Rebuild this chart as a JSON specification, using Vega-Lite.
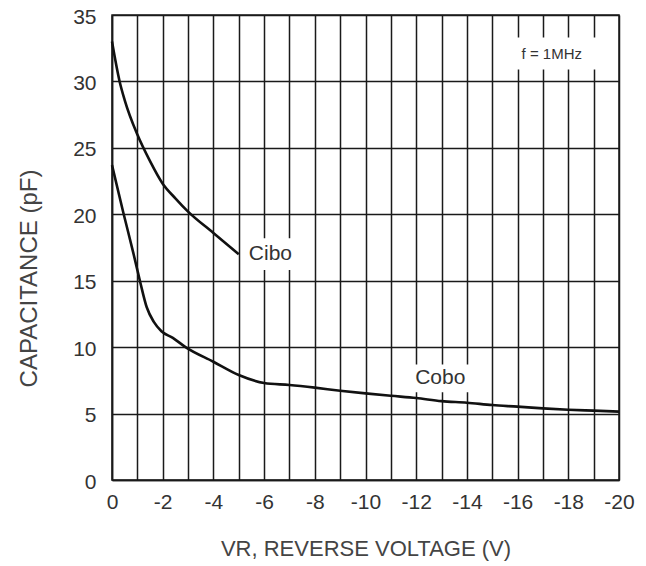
{
  "$schema": "https://vega.github.io/schema/vega-lite/v6.json",
  "width": 507,
  "height": 465,
  "autosize": "none",
  "padding": {"left": 112, "top": 15, "right": 27, "bottom": 86},
  "background": "white",
  "config": {
    "font": "Liberation Sans",
    "view": {"stroke": "#1a1a1a", "strokeWidth": 1.5},
    "axis": {
      "ticks": false,
      "gridColor": "#1a1a1a",
      "gridWidth": 1.5,
      "gridOpacity": 1,
      "domainColor": "#1a1a1a",
      "domainWidth": 1.5,
      "labelFont": "Liberation Sans",
      "labelFontSize": 21,
      "labelColor": "#333333",
      "titleFont": "Liberation Sans",
      "titleFontWeight": "normal",
      "titleColor": "#444444"
    }
  },
  "datasets": {
    "curves": [
      {"series": "Cibo", "v": 0, "c": 33.0},
      {"series": "Cibo", "v": -0.3, "c": 30.0},
      {"series": "Cibo", "v": -0.5, "c": 28.6},
      {"series": "Cibo", "v": -1, "c": 26.0},
      {"series": "Cibo", "v": -1.5, "c": 24.0},
      {"series": "Cibo", "v": -2, "c": 22.3},
      {"series": "Cibo", "v": -2.5, "c": 21.2},
      {"series": "Cibo", "v": -3, "c": 20.2},
      {"series": "Cibo", "v": -4, "c": 18.6},
      {"series": "Cibo", "v": -5, "c": 17.0},
      {"series": "Cobo", "v": 0, "c": 23.7},
      {"series": "Cobo", "v": -0.45, "c": 20.1},
      {"series": "Cobo", "v": -0.84, "c": 17.1},
      {"series": "Cobo", "v": -1.1, "c": 15.0},
      {"series": "Cobo", "v": -1.37, "c": 13.0},
      {"series": "Cobo", "v": -1.65, "c": 11.9},
      {"series": "Cobo", "v": -1.95, "c": 11.2},
      {"series": "Cobo", "v": -2.4, "c": 10.7},
      {"series": "Cobo", "v": -2.9, "c": 10.0},
      {"series": "Cobo", "v": -4, "c": 8.9},
      {"series": "Cobo", "v": -5, "c": 7.9},
      {"series": "Cobo", "v": -6, "c": 7.3},
      {"series": "Cobo", "v": -7, "c": 7.15},
      {"series": "Cobo", "v": -8, "c": 6.95},
      {"series": "Cobo", "v": -9, "c": 6.72},
      {"series": "Cobo", "v": -10, "c": 6.52},
      {"series": "Cobo", "v": -11, "c": 6.34},
      {"series": "Cobo", "v": -12, "c": 6.17},
      {"series": "Cobo", "v": -13, "c": 5.94},
      {"series": "Cobo", "v": -14, "c": 5.82},
      {"series": "Cobo", "v": -15, "c": 5.64},
      {"series": "Cobo", "v": -16, "c": 5.52},
      {"series": "Cobo", "v": -17, "c": 5.39},
      {"series": "Cobo", "v": -18, "c": 5.29},
      {"series": "Cobo", "v": -19, "c": 5.22},
      {"series": "Cobo", "v": -20, "c": 5.15}
    ],
    "labels": [
      {"text": "f = 1MHz", "v": -17.35, "c": 32.1, "x1": -15.8, "x2": -19.2, "y1": 30.9, "y2": 33.3, "size": "small"},
      {"text": "Cibo", "v": -6.25, "c": 17.0, "x1": -5.3, "x2": -7.4, "y1": 15.8, "y2": 18.2, "size": "big"},
      {"text": "Cobo", "v": -12.95, "c": 7.65, "x1": -11.4, "x2": -14.5, "y1": 6.6, "y2": 8.7, "size": "big"}
    ]
  },
  "layer": [
    {
      "data": {"name": "labels"},
      "mark": {"type": "rect", "fill": "white", "stroke": null},
      "encoding": {
        "x": {
          "field": "x1",
          "type": "quantitative",
          "scale": {"domain": [0, -20], "nice": false},
          "axis": {
            "values": [0, -1, -2, -3, -4, -5, -6, -7, -8, -9, -10, -11, -12, -13, -14, -15, -16, -17, -18, -19, -20],
            "labelExpr": "datum.value % 2 == 0 ? ('' + datum.value) : ''",
            "labelPadding": 11,
            "labelFlush": false,
            "labelOverlap": false,
            "title": "VR, REVERSE VOLTAGE (V)",
            "titleFontSize": 22,
            "titlePadding": 26
          }
        },
        "x2": {"field": "x2"},
        "y": {
          "field": "y1",
          "type": "quantitative",
          "scale": {"domain": [0, 35], "nice": false},
          "axis": {
            "values": [0, 5, 10, 15, 20, 25, 30, 35],
            "labelPadding": 16,
            "labelOffset": 2,
            "title": "CAPACITANCE (pF)",
            "titleFontSize": 24,
            "titlePadding": 31,
            "titleY": 263
          }
        },
        "y2": {"field": "y2"}
      }
    },
    {
      "data": {"name": "curves"},
      "mark": {"type": "line", "interpolate": "monotone", "strokeWidth": 2.6, "color": "#111111"},
      "encoding": {
        "x": {
          "field": "v",
          "type": "quantitative",
          "scale": {"domain": [0, -20], "nice": false},
          "axis": {
            "values": [0, -1, -2, -3, -4, -5, -6, -7, -8, -9, -10, -11, -12, -13, -14, -15, -16, -17, -18, -19, -20],
            "labelExpr": "datum.value % 2 == 0 ? ('' + datum.value) : ''",
            "labelPadding": 11,
            "labelFlush": false,
            "labelOverlap": false,
            "title": "VR, REVERSE VOLTAGE (V)",
            "titleFontSize": 22,
            "titlePadding": 26
          }
        },
        "y": {
          "field": "c",
          "type": "quantitative",
          "scale": {"domain": [0, 35], "nice": false},
          "axis": {
            "values": [0, 5, 10, 15, 20, 25, 30, 35],
            "labelPadding": 16,
            "labelOffset": 2,
            "title": "CAPACITANCE (pF)",
            "titleFontSize": 24,
            "titlePadding": 31,
            "titleY": 263
          }
        },
        "detail": {"field": "series"}
      }
    },
    {
      "data": {"name": "labels"},
      "mark": {"type": "text", "font": "Liberation Sans", "color": "#333333", "align": "center", "baseline": "middle"},
      "encoding": {
        "x": {
          "field": "v",
          "type": "quantitative",
          "scale": {"domain": [0, -20], "nice": false},
          "axis": {
            "values": [0, -1, -2, -3, -4, -5, -6, -7, -8, -9, -10, -11, -12, -13, -14, -15, -16, -17, -18, -19, -20],
            "labelExpr": "datum.value % 2 == 0 ? ('' + datum.value) : ''",
            "labelPadding": 11,
            "labelFlush": false,
            "labelOverlap": false,
            "title": "VR, REVERSE VOLTAGE (V)",
            "titleFontSize": 22,
            "titlePadding": 26
          }
        },
        "y": {
          "field": "c",
          "type": "quantitative",
          "scale": {"domain": [0, 35], "nice": false},
          "axis": {
            "values": [0, 5, 10, 15, 20, 25, 30, 35],
            "labelPadding": 16,
            "labelOffset": 2,
            "title": "CAPACITANCE (pF)",
            "titleFontSize": 24,
            "titlePadding": 31,
            "titleY": 263
          }
        },
        "text": {"field": "text"},
        "size": {"field": "size", "type": "nominal", "scale": {"domain": ["small", "big"], "range": [15, 21]}, "legend": null}
      }
    }
  ]
}
